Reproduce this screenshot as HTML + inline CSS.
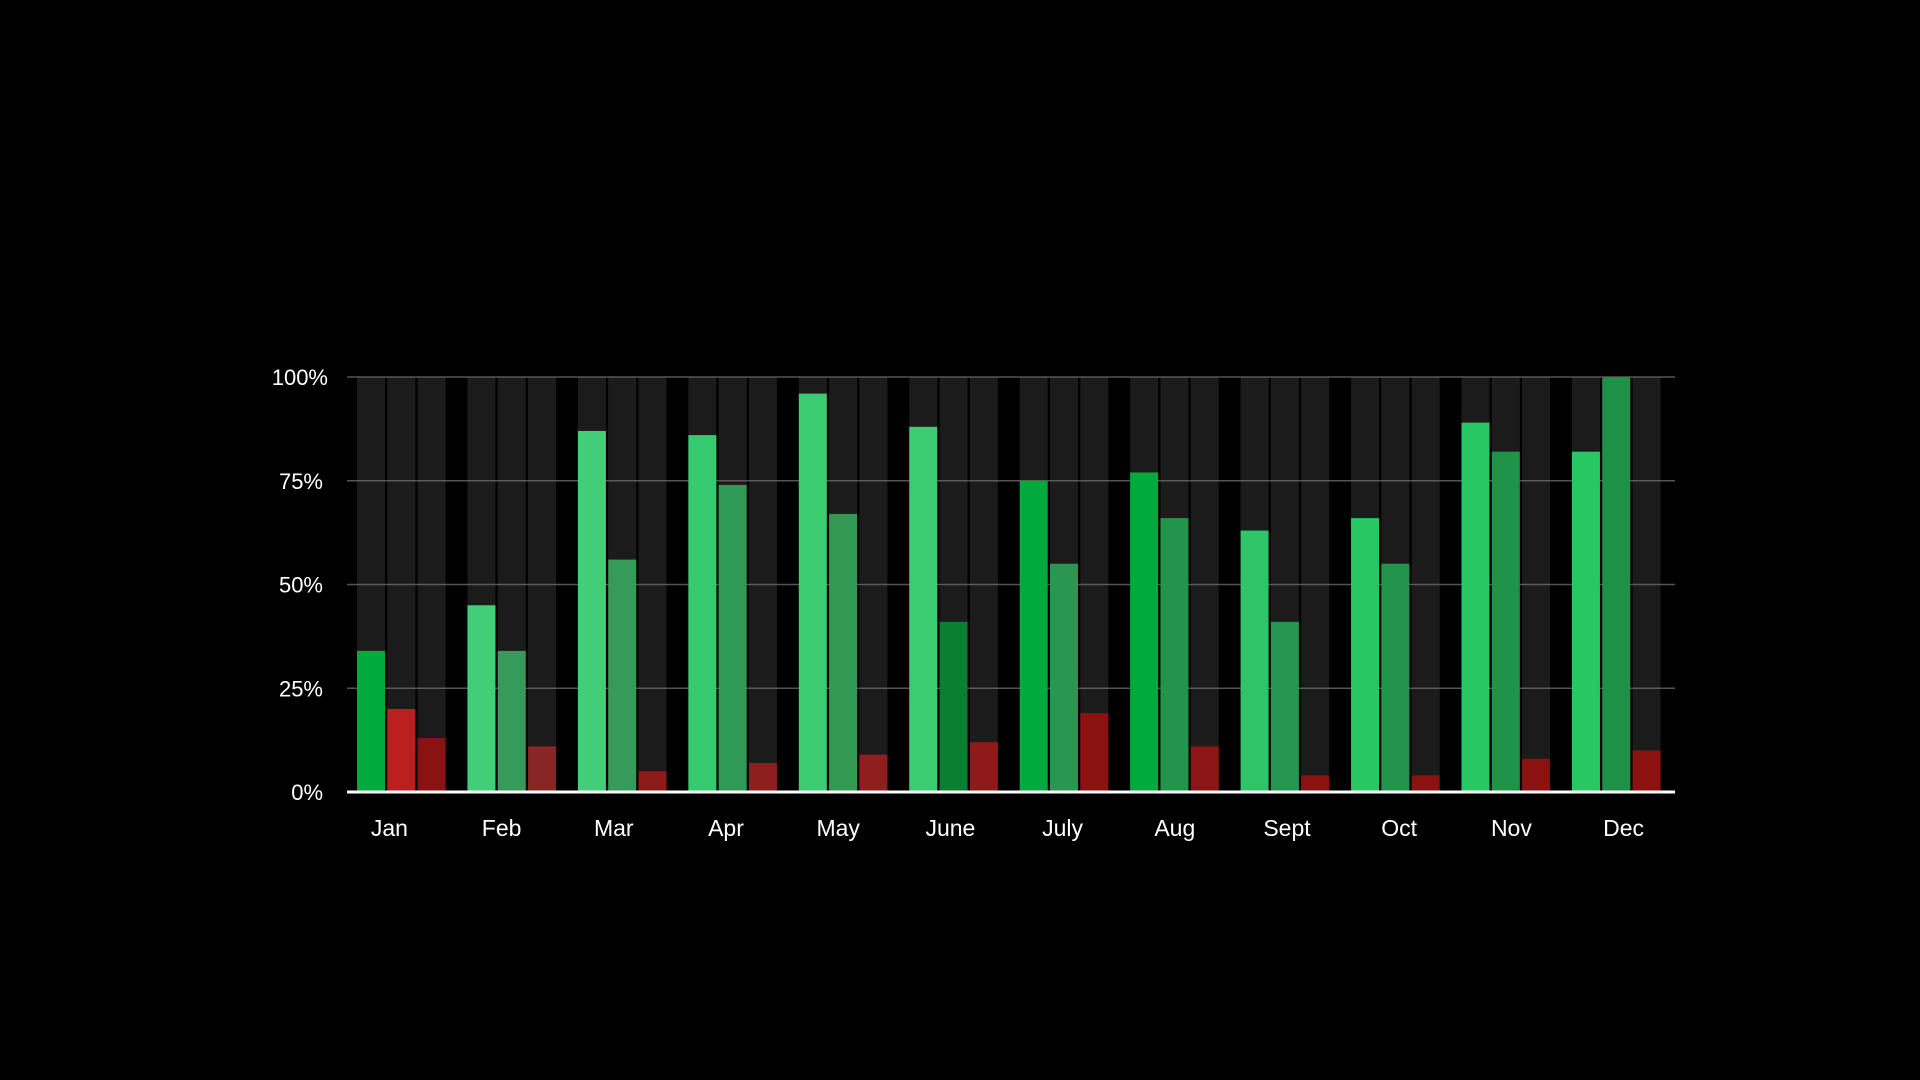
<!DOCTYPE html>
<html><head><meta charset="utf-8"><style>
html,body{margin:0;padding:0;background:#000;width:1920px;height:1080px;overflow:hidden}
svg text{font-family:"Liberation Sans",sans-serif;fill:#fff}
</style></head><body>
<svg id="c" width="1920" height="1080" xmlns="http://www.w3.org/2000/svg"></svg>
<script>
(function(){
var s=document.getElementById('c');
var data=[
["Jan",[34,20,13],["#00aa3c","#bb1f1f","#8b1212"]],
["Feb",[45,34,11],["#42ce78","#359a5a","#882525"]],
["Mar",[87,56,5],["#42ce78","#359a5a","#8f1a1a"]],
["Apr",[86,74,7],["#35c970","#2e9a55","#8f1e1e"]],
["May",[96,67,9],["#3bcc72","#329955","#8f1e1e"]],
["June",[88,41,12],["#3bcc72","#0a7f30","#8f1a1a"]],
["July",[75,55,19],["#00aa3c","#2a9652","#8c1212"]],
["Aug",[77,66,11],["#00aa3c","#22944b","#8c1515"]],
["Sept",[63,41,4],["#2fc468","#279650","#8c1212"]],
["Oct",[66,55,4],["#27c763","#22944b","#8c1212"]],
["Nov",[89,82,8],["#27c763","#1f934a","#8c1212"]],
["Dec",[82,100,10],["#27c763","#1e9048","#8c1212"]]];
var base=792,yTop=377,H=base-yTop,x0=357,pitch=110.45,bw=28,sp=30.3;
var h='';
data.forEach(function(d,i){for(var j=0;j<3;j++){h+='<rect x="'+(x0+i*pitch+j*sp)+'" y="'+yTop+'" width="'+bw+'" height="'+H+'" fill="#1b1b1b"/>';}});
[0,25,50,75,100].forEach(function(v){var y=base-H*v/100;if(v>0)h+='<line x1="347" x2="1675" y1="'+y+'" y2="'+y+'" stroke="#6a6a6a" stroke-width="1.5" opacity="0.8"/>';
h+='<text x="'+(v==100?328:323)+'" y="'+(y+8)+'" font-size="22" text-anchor="end">'+v+'%</text>';});
data.forEach(function(d,i){for(var j=0;j<3;j++){var hh=H*d[1][j]/100;h+='<rect x="'+(x0+i*pitch+j*sp)+'" y="'+(base-hh)+'" width="'+bw+'" height="'+hh+'" fill="'+d[2][j]+'"/>';}
h+='<text x="'+(389.4+i*112.2)+'" y="836" font-size="23" text-anchor="middle">'+d[0]+'</text>';});
h+='<line x1="347" x2="1675" y1="792" y2="792" stroke="#fff" stroke-width="3"/>';
s.innerHTML=h;
})();
</script>
</body></html>
